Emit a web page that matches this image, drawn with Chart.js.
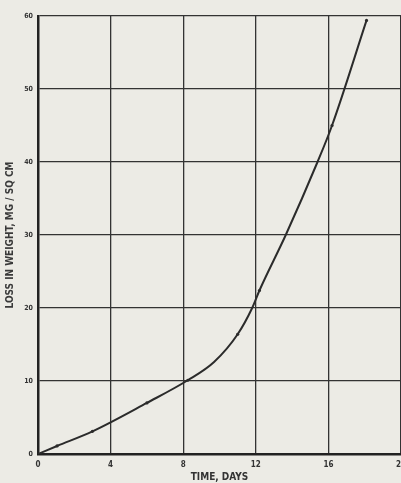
<!DOCTYPE html>
<html><head><meta charset="utf-8">
<script src="https://cdn.jsdelivr.net/npm/chart.js@4/dist/chart.umd.min.js"></script>
<style>html,body{margin:0;padding:0;background:#ecebe5;}#wrap{width:401px;height:483px;}</style>
</head><body><div id="wrap"><canvas id="c" width="401" height="483"></canvas></div>
<script>
const days = [0, 1.05, 3.0, 6.0, 8.25, 9.7, 11.0, 11.8, 12.2, 13.65, 15.4, 16.2, 18.1];
const lossMg = [0, 1.1, 3.1, 7.0, 10.1, 12.6, 16.4, 20.0, 22.4, 30.0, 40.0, 45.0, 59.4];
const xTicks = [0, 4, 8, 12, 16, 20];
const yTicks = [0, 10, 20, 30, 40, 50, 60];
const xTitle = 'TIME, DAYS';
const yTitle = 'LOSS IN WEIGHT, MG / SQ CM';
const markerDays = [0, 1.05, 3.0, 6.0, 8.25, 11.0, 12.2, 16.2, 18.1];

const pts = days.map((d, i) => ({x: d, y: lossMg[i]}));
const ink = '#2b2b2b';
const F = 'DejaVu Sans Condensed, DejaVu Sans';
new Chart(document.getElementById('c'), {
  type: 'line',
  data: { datasets: [{ data: pts, borderColor: ink, borderWidth: 2,
    pointRadius: ctx => markerDays.includes(days[ctx.dataIndex]) ? 1.6 : 0,
    pointBackgroundColor: ink, pointBorderColor: ink, pointBorderWidth: 0,
    cubicInterpolationMode: 'monotone', fill: false }] },
  options: {
    responsive: false, animation: false, devicePixelRatio: 1,
    layout: { autoPadding: false, padding: { top: 16, right: -1, left: 0, bottom: 0 } },
    plugins: { legend: { display: false }, tooltip: { enabled: false } },
    scales: {
      x: { type: 'linear', min: 0, max: 20,
        afterBuildTicks: a => { a.ticks = xTicks.map(v => ({value: v})); },
        afterFit: a => { a.height = 29; a.paddingRight = -20; a.paddingLeft = 0; },
        grid: { color: '#333', lineWidth: 1.3, drawTicks: false },
        border: { color: '#222', width: 2.5 },
        ticks: { color: '#333', padding: 6, font: { family: F, size: 8, weight: 'bold' }, maxRotation: 0 },
        title: { display: true, text: xTitle, color: '#333', padding: { top: 0, bottom: 0 },
          font: { family: F, size: 10, weight: 'bold' } } },
      y: { type: 'linear', min: 0, max: 60,
        afterBuildTicks: a => { a.ticks = yTicks.map(v => ({value: v})); },
        afterFit: a => { a.width = 38; a.paddingTop = 0; a.paddingBottom = 0; },
        grid: { color: '#333', lineWidth: 1.3, drawTicks: false },
        border: { color: '#222', width: 2.5 },
        ticks: { color: '#333', padding: 5, font: { family: F, size: 7, weight: 'bold' } },
        title: { display: true, text: yTitle, color: '#3a3a3a', padding: { top: 4, bottom: 2 },
          font: { family: F, size: 10, weight: 'bold' } } }
    }
  },
  plugins: [{ id: 'bg', beforeDraw: c => { const g = c.ctx; g.save(); g.fillStyle = '#ecebe5'; g.fillRect(0,0,c.width,c.height); g.restore(); } }]
});
</script></body></html>
